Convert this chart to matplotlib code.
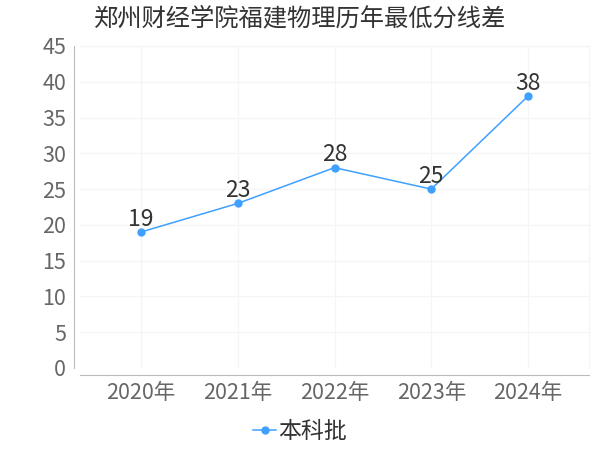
import matplotlib
matplotlib.use("Agg")
import matplotlib.pyplot as plt

plt.rcParams['font.family'] = ['Noto Sans CJK SC', 'DejaVu Sans']

title = "郑州财经学院福建物理历年最低分线差"
years = ["2020年", "2021年", "2022年", "2023年", "2024年"]
values = [19, 23, 28, 25, 38]
series_name = "本科批"
yticks = [0, 5, 10, 15, 20, 25, 30, 35, 40, 45]

line_color = "#3fa0ff"

fig = plt.figure(figsize=(6, 4.5), dpi=100)
W, H = 600, 450
left, right, top, bottom = 80, 589, 46, 368
ax = fig.add_axes([left / W, 1 - bottom / H, (right - left) / W, (bottom - top) / H])

x = list(range(len(years)))
ax.plot(x, values, color=line_color, lw=1.1, marker="o", ms=5,
        markerfacecolor=line_color, markeredgecolor=line_color, label=series_name, zorder=3)
for xi, v in zip(x, values):
    ax.annotate(str(v), (xi, v), xytext=(0, 1), textcoords="offset points",
                ha="center", va="bottom", fontsize=16.5, color="#333333", zorder=4)

ax.set_xlim(-0.63, 4.63)
ax.set_ylim(0, 45)
ax.set_xticks(x)
ax.set_xticklabels(years)
ax.set_yticks(yticks)
ax.tick_params(axis="both", labelsize=15.5, colors="#666666", length=0)
ax.tick_params(axis="x", pad=5)
ax.tick_params(axis="y", pad=6)
for lab in ax.get_xticklabels() + ax.get_yticklabels():
    lab.set_color("#555555")

ax.grid(True, color="#f5f5f5", lw=1)
ax.set_axisbelow(True)
for s in ["top", "right"]:
    ax.spines[s].set_color("#f5f5f5")
ax.spines["left"].set_position(("outward", 4))
ax.spines["bottom"].set_position(("outward", 5))
ax.spines["left"].set_color("#bbbbbb")
ax.spines["bottom"].set_color("#bbbbbb")

fig.text(0.5, 1 - 18 / H, title, ha="center", va="center", fontsize=17.5, color="#333333")

leg = fig.legend(loc="center", bbox_to_anchor=(0.5, 1 - 432 / H), frameon=False,
                 fontsize=16.5, handlelength=1.0, handletextpad=0.1, labelcolor="#333333")

fig.savefig("out.png", dpi=100)
